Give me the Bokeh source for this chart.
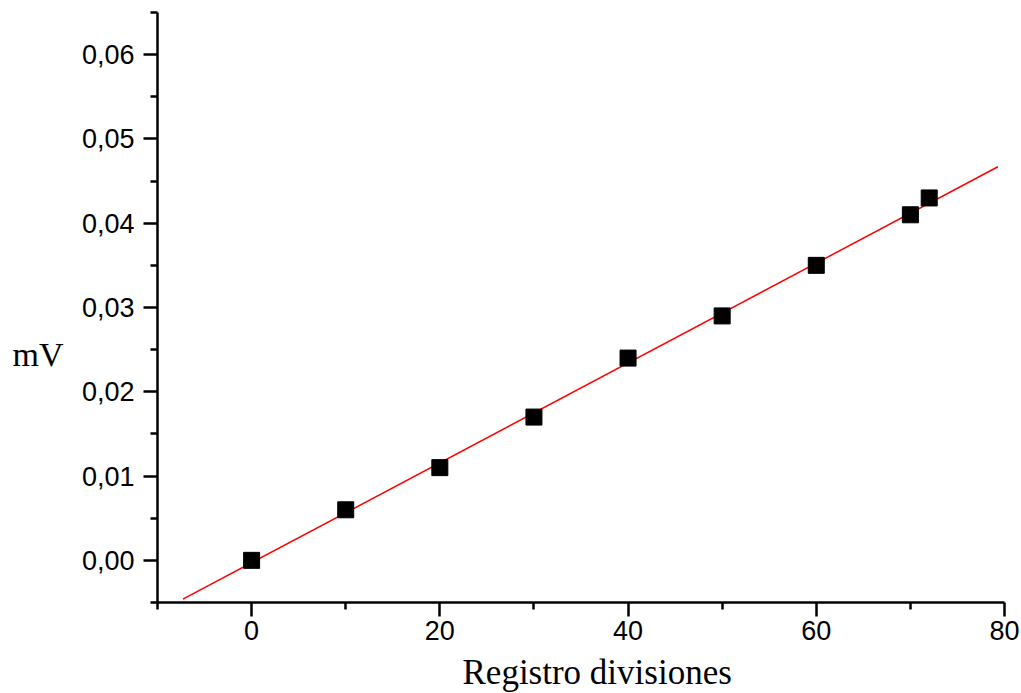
import numpy as np
from bokeh.plotting import figure
from bokeh.models import Range1d, FixedTicker, Title, CustomJSTickFormatter
from bokeh.layouts import row
from bokeh.core.properties import value
from bokeh.embed import file_html
from bokeh.resources import INLINE

# Measured calibration points
divisions = [0, 10, 20, 30, 40, 50, 60, 70, 72]
millivolts = [0.000, 0.006, 0.011, 0.017, 0.024, 0.029, 0.035, 0.041, 0.043]

# Extent of the drawn fit line
fit_x = [-7.3, 79.3]

x_ticks = [0, 20, 40, 60, 80]
x_minor = [-10, 10, 30, 50, 70]
y_ticks = [0.00, 0.01, 0.02, 0.03, 0.04, 0.05, 0.06]
y_minor = [-0.005, 0.005, 0.015, 0.025, 0.035, 0.045, 0.055, 0.065]

y_label = "mV"
x_label = "Registro divisiones"

slope, intercept = np.polyfit(divisions, millivolts, 1)
fit_y = [slope * x + intercept for x in fit_x]

y_range = Range1d(-0.005, 0.065)

# Main plot
p = figure(frame_width=847, frame_height=590, output_backend="svg",
           toolbar_location=None, x_range=Range1d(-10, 80), y_range=y_range,
           min_border_left=87, min_border_right=17, min_border_top=12,
           min_border_bottom=4)
p.outline_line_color = None
p.xgrid.visible = False
p.ygrid.visible = False

p.line(fit_x, fit_y, line_color="#ff0000", line_width=1.5)
p.scatter(divisions, millivolts, marker="square", size=16,
          fill_color="black", line_color="black")

for ax in (p.xaxis[0], p.yaxis[0]):
    ax.axis_line_width = 2.5
    ax.major_tick_line_width = 2.5
    ax.minor_tick_line_width = 2.5
    ax.major_tick_in = 0
    ax.major_tick_out = 14
    ax.minor_tick_in = 0
    ax.minor_tick_out = 7
    ax.major_label_text_font = "Liberation Sans"
    ax.major_label_text_font_size = "27px"
    ax.major_label_text_color = "black"
p.xaxis.major_label_standoff = 4
p.yaxis.major_label_standoff = 9

p.xaxis.ticker = FixedTicker(ticks=x_ticks, minor_ticks=x_minor)
p.yaxis.ticker = FixedTicker(ticks=y_ticks, minor_ticks=y_minor)
p.yaxis.formatter = CustomJSTickFormatter(
    code="return tick.toFixed(2).replace('.', ',');")
p.xaxis.formatter = CustomJSTickFormatter(code="return tick.toFixed(0);")

p.add_layout(Title(text=x_label, align="left", offset=305, standoff=17,
                   text_font="Liberation Serif", text_font_size="35px",
                   text_font_style="normal", text_color="black"), "below")

# Narrow strip on the left carrying the horizontal y-axis label
lab = figure(frame_width=70, frame_height=590, output_backend="svg",
             toolbar_location=None, x_range=Range1d(0, 70), y_range=y_range,
             min_border_left=0, min_border_right=0, min_border_top=12,
             min_border_bottom=4)
lab.axis.visible = False
lab.grid.visible = False
lab.outline_line_color = None
lab.text(x=[12], y=[0.0244], text=[y_label], text_font=value("Liberation Serif"),
         text_font_size="34px", text_align="left", text_baseline="middle",
         text_color="black")

layout = row(lab, p, spacing=0)
open("out.html", "w").write(file_html(layout, INLINE))
